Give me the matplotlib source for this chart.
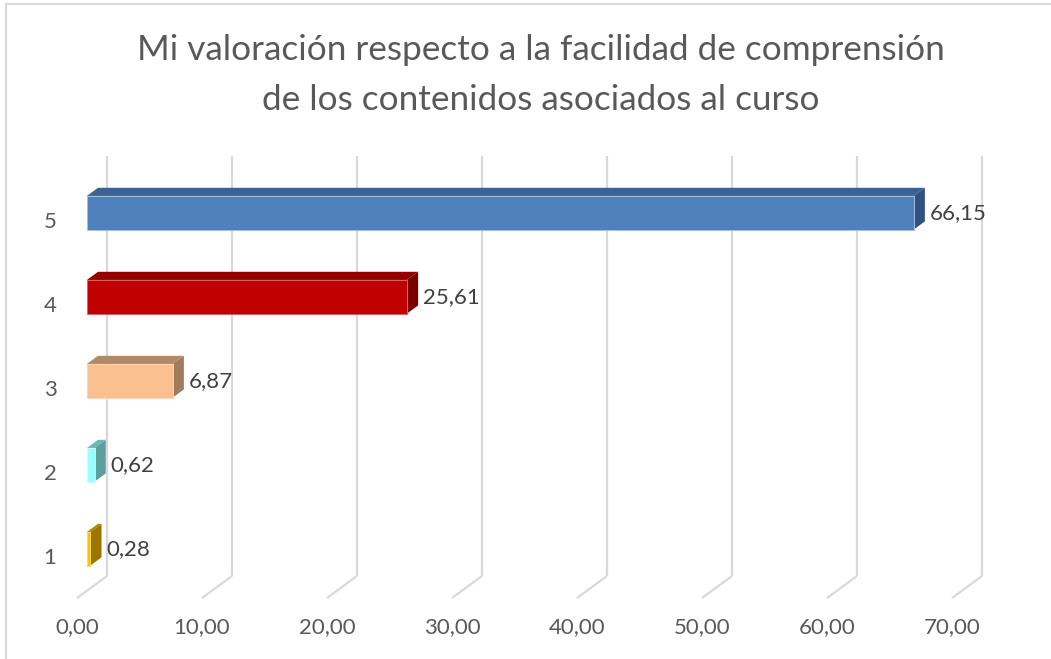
import matplotlib.pyplot as plt
from matplotlib.patches import Polygon

plt.rcParams['font.family'] = ['Lato', 'DejaVu Sans']

# data
categories = ['1', '2', '3', '4', '5']
values = [0.28, 0.62, 6.87, 25.61, 66.15]
value_labels = ['0,28', '0,62', '6,87', '25,61', '66,15']
ticks = [0, 10, 20, 30, 40, 50, 60, 70]
tick_labels = ['0,00', '10,00', '20,00', '30,00', '40,00', '50,00', '60,00', '70,00']

# front / top / side colours per bar
front_cols = ['#FFC000', '#99FFFF', '#FAC090', '#C00000', '#4F81BD']
top_cols = ['#B08800', '#6FB8B8', '#B38A68', '#940000', '#3A6394']
side_cols = ['#9C7600', '#5E9E9E', '#A07B5C', '#7A0000', '#2F5280']
edge_cols = ['#FFD860', '#C8FFFF', '#FCD5B5', '#E06060', '#A7C0DE']

title1 = 'Mi valoración respecto a la facilidad de comprensión'
title2 = 'de los contenidos asociados al curso'

# oblique "3d" depth, in data units
DX = 2.4
DY = 0.262
t0, t1 = 0.33, 0.70
h = 0.2


def off(x, y, t):
    return (x + t * DX, y + t * DY)


my_dpi = 100
fig = plt.figure(figsize=(1051 / my_dpi, 659 / my_dpi), dpi=my_dpi)
ax = fig.add_axes([0, 0, 1, 1])
ax.set_xlim(-6.16, 77.92)
ax.set_ylim(-0.226, 7.619)
ax.axis('off')

grid_col = '#D9D9D9'
for v in ticks:
    x0, y0 = off(v, 0.5, 1)
    x1, y1 = off(v, 5.5, 1)
    ax.plot([x0, x1], [y0, y1], color=grid_col, lw=1.6, solid_capstyle='butt', zorder=1)
    fx, fy = off(v, 0.5, 0)
    ax.plot([fx, x0], [fy, y0], color=grid_col, lw=1.6, solid_capstyle='butt', zorder=1)

for i, v in enumerate(values):
    c = i + 1
    front = [off(0, c - h, t0), off(v, c - h, t0), off(v, c + h, t0), off(0, c + h, t0)]
    top = [off(0, c + h, t0), off(v, c + h, t0), off(v, c + h, t1), off(0, c + h, t1)]
    side = [off(v, c - h, t0), off(v, c + h, t0), off(v, c + h, t1), off(v, c - h, t1)]
    ax.add_patch(Polygon(top, closed=True, facecolor=top_cols[i], edgecolor='none', zorder=3))
    ax.add_patch(Polygon(side, closed=True, facecolor=side_cols[i], edgecolor='none', zorder=3))
    ax.add_patch(Polygon(front, closed=True, facecolor=front_cols[i], edgecolor=edge_cols[i],
                         lw=0.7, zorder=4))
    lx, ly = off(v, c, t1)
    ax.annotate(value_labels[i], xy=(lx, c + t0 * DY), xytext=(5, 0), textcoords='offset pixels',
                ha='left', va='center', fontsize=16, color='#404040', zorder=5)
    ax.annotate(categories[i], xy=(0, c), xytext=(-27, -2), textcoords='offset pixels',
                ha='center', va='center', fontsize=16, color='#595959')

for v, lab in zip(ticks, tick_labels):
    ax.annotate(lab, xy=(v, 0.5), xytext=(0, -29), textcoords='offset pixels',
                ha='center', va='center', fontsize=16, color='#595959')

fig.text(541 / 1051, 1 - 60 / 659, title1, ha='center', va='baseline', fontsize=25.3, color='#595959')
fig.text(541 / 1051, 1 - 110 / 659, title2, ha='center', va='baseline', fontsize=25.3, color='#595959')

# chart area border (only left and top visible)
fig.add_artist(plt.Line2D([6 / 1051, 6 / 1051], [0, 1 - 4 / 659], color=grid_col, lw=1.5))
fig.add_artist(plt.Line2D([6 / 1051, 1], [1 - 4 / 659, 1 - 4 / 659], color=grid_col, lw=1.5))

fig.savefig('out.png', dpi=my_dpi)
